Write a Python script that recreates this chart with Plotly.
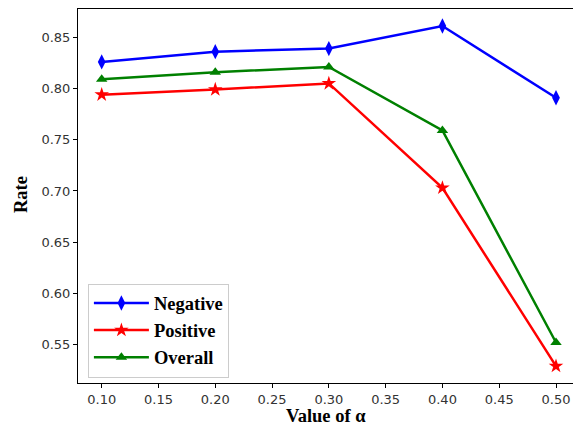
import plotly.graph_objects as go

alpha = [0.10, 0.20, 0.30, 0.40, 0.50]
negative = [0.826, 0.836, 0.839, 0.861, 0.791]
positive = [0.794, 0.799, 0.805, 0.703, 0.529]
overall = [0.809, 0.816, 0.821, 0.759, 0.552]

x_ticks = [0.10, 0.15, 0.20, 0.25, 0.30, 0.35, 0.40, 0.45, 0.50]
y_ticks = [0.55, 0.60, 0.65, 0.70, 0.75, 0.80, 0.85]

fig = go.Figure()
fig.add_trace(go.Scatter(x=alpha, y=negative, name="Negative", mode="lines+markers",
                         line=dict(color="#0000ff", width=2.5),
                         marker=dict(symbol="diamond-tall", size=11, color="#0000ff")))
fig.add_trace(go.Scatter(x=alpha, y=positive, name="Positive", mode="lines+markers",
                         line=dict(color="#ff0000", width=2.5),
                         marker=dict(symbol="star", size=11, color="#ff0000")))
fig.add_trace(go.Scatter(x=alpha, y=overall, name="Overall", mode="lines+markers",
                         line=dict(color="#008000", width=2.5),
                         marker=dict(symbol="triangle-up", size=10, color="#008000")))

tickfont = dict(family="DejaVu Sans", size=13, color="#333333")
titlefont = dict(family="Liberation Serif", size=18.5, color="black", weight="bold")

fig.update_layout(
    width=573, height=427,
    margin=dict(l=78, r=0, t=9, b=44),
    paper_bgcolor="white", plot_bgcolor="white",
    showlegend=True,
    legend=dict(x=0.02, y=0.266, xanchor="left", yanchor="top",
                bgcolor="rgba(255,255,255,0.8)", bordercolor="#cccccc", borderwidth=1,
                font=dict(family="Liberation Serif", size=18.5, color="black", weight="bold"),
                itemwidth=55, tracegroupgap=0),
    xaxis=dict(range=[0.07913, 0.51497], tickvals=x_ticks,
               ticktext=[f"{v:.2f}" for v in x_ticks],
               showgrid=False, zeroline=False, showline=True, linecolor="black",
               linewidth=1, mirror=True, ticks="outside", ticklen=4, tickcolor="black",
               tickfont=tickfont, automargin=False),
    yaxis=dict(range=[0.51248, 0.87766], tickvals=y_ticks,
               ticktext=[f"{v:.2f}" for v in y_ticks],
               showgrid=False, zeroline=False, showline=True, linecolor="black",
               linewidth=1, ticks="outside", ticklen=4, tickcolor="black",
               tickfont=tickfont, automargin=False),
    annotations=[
        dict(text="Rate", xref="paper", yref="paper", x=-0.1152, y=0.505,
             xanchor="center", yanchor="middle", textangle=-90, showarrow=False,
             font=titlefont),
        dict(text="Value of α", xref="paper", yref="paper", x=0.501, y=-0.0891,
             xanchor="center", yanchor="middle", showarrow=False, font=titlefont),
    ],
)

fig.write_html("out.html", config={"displayModeBar": False},
               post_script="document.body.style.margin='0';document.body.style.overflow='hidden';")
